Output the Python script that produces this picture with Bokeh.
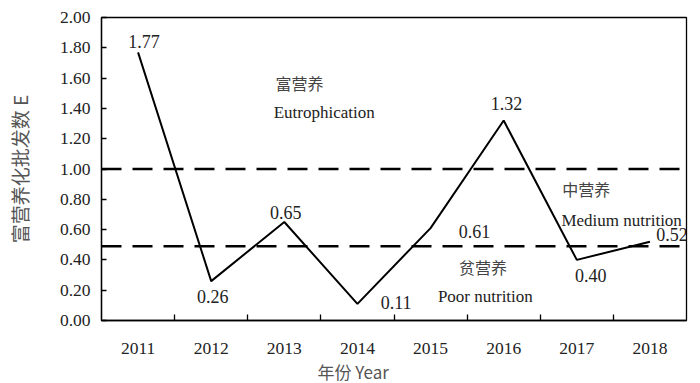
from bokeh.plotting import figure
from bokeh.models import Range1d, FixedTicker, Span, Label, NumeralTickFormatter, ColumnDataSource, Title
from bokeh.core.properties import value
from bokeh.embed import file_html
from bokeh.resources import INLINE

years = [2011, 2012, 2013, 2014, 2015, 2016, 2017, 2018]
e_values = [1.77, 0.26, 0.65, 0.11, 0.61, 1.32, 0.40, 0.52]
value_labels = ["1.77", "0.26", "0.65", "0.11", "0.61", "1.32", "0.40", "0.52"]
thresholds = [1.00, 0.49]
y_ticks = [0.0, 0.2, 0.4, 0.6, 0.8, 1.0, 1.2, 1.4, 1.6, 1.8, 2.0]

# label placement (data coords)
lab_x = [2011.08, 2012.02, 2013.02, 2014.53, 2015.6, 2016.04, 2017.19, 2018.3]
lab_y = [1.84, 0.16, 0.71, 0.12, 0.59, 1.43, 0.30, 0.57]

zones = [
    ("富营养", 2012.88, 1.566, "cjk"),
    ("Eutrophication", 2012.855, 1.37, "serif"),
    ("中营养", 2016.80, 0.87, "cjk"),
    ("Medium nutrition", 2016.79, 0.66, "serif"),
    ("贫营养", 2015.39, 0.355, "cjk"),
    ("Poor nutrition", 2015.1, 0.16, "serif"),
]

SERIF = "Liberation Serif"
CJK = "Noto Sans CJK SC"

p = figure(width=692, height=383, output_backend="svg", toolbar_location=None,
           x_range=Range1d(2010.5, 2018.5), y_range=Range1d(0, 2.0),
           min_border_left=101, min_border_right=6, min_border_top=17, min_border_bottom=62)
p.background_fill_color = "white"
p.border_fill_color = "white"
p.grid.visible = False
p.outline_line_color = "black"
p.outline_line_width = 1.3
p.outline_line_alpha = 1.0

# axes
p.xaxis.ticker = FixedTicker(ticks=years, minor_ticks=[y + 0.5 for y in years[:-1]])
p.xaxis.major_tick_line_color = None
p.xaxis.minor_tick_in = 6
p.xaxis.minor_tick_out = 0
p.xaxis.minor_tick_line_color = "black"
p.xaxis.minor_tick_line_width = 1.3
p.xaxis.major_label_standoff = 16
p.xaxis.major_label_text_font = SERIF
p.xaxis.major_label_text_font_size = "17.5px"
p.xaxis.major_label_text_color = "#222222"
p.xaxis.axis_line_width = 1.3

p.yaxis.ticker = FixedTicker(ticks=y_ticks)
p.yaxis.formatter = NumeralTickFormatter(format="0.00")
p.yaxis.major_tick_in = 5
p.yaxis.major_tick_out = 0
p.yaxis.major_tick_line_width = 1.3
p.yaxis.minor_tick_line_color = None
p.yaxis.major_label_standoff = 11
p.yaxis.major_label_text_font = SERIF
p.yaxis.major_label_text_font_size = "17.5px"
p.yaxis.major_label_text_color = "#222222"
p.yaxis.axis_line_width = 1.3
p.yaxis.axis_label = "富营养化批发数 E"
p.yaxis.axis_label_text_font = CJK
p.yaxis.axis_label_text_font_style = "normal"
p.yaxis.axis_label_text_font_size = "19px"
p.yaxis.axis_label_text_color = "#555555"
p.yaxis.axis_label_standoff = 24

# thresholds
for t in thresholds:
    p.add_layout(Span(location=t, dimension="width", line_color="black",
                      line_width=2.6, line_dash="20 11"))

# data line
src = ColumnDataSource(dict(x=years, y=e_values))
p.line("x", "y", source=src, line_color="black", line_width=2)

# value labels
lsrc = ColumnDataSource(dict(x=lab_x, y=lab_y, t=value_labels))
p.text("x", "y", text="t", source=lsrc, text_font=value(SERIF), text_font_size="18px",
       text_align="center", text_baseline="middle", text_color="#222222")

# zone annotations
for txt, zx, zy, kind in zones:
    p.add_layout(Label(x=zx, y=zy, text=txt,
                       text_font=(CJK if kind == "cjk" else SERIF),
                       text_font_size=("16px" if kind == "cjk" else "17px"),
                       text_align="left", text_baseline="middle",
                       text_color=("#444444" if kind == "cjk" else "#222222")))

# x title, placed below the axis, offset to match reference position
p.add_layout(Title(text="年份 Year", align="left", offset=216, text_font=CJK,
                   text_font_size="17px", text_font_style="normal",
                   text_color="#555555", standoff=0), "below")

open("out.html", "w").write(file_html(p, INLINE))
